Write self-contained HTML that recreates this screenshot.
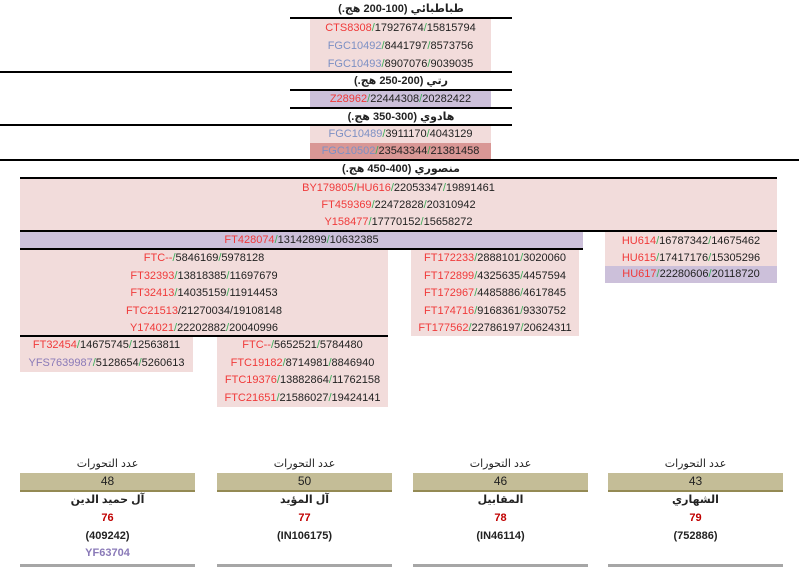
<!DOCTYPE html>
<html><head><meta charset="utf-8">
<style>
body{margin:0;width:799px;height:570px;background:#fff;position:relative;overflow:hidden;font-family:"Liberation Sans","DejaVu Sans",sans-serif;font-size:11px;color:#222}
.a{position:absolute}
.ln{position:absolute;height:2px;background:#000}
.blk{position:absolute}
.r{position:absolute;height:18px;line-height:18px;text-align:center;white-space:nowrap;left:0;right:0}
.h{position:absolute;text-align:center;font-weight:bold;font-size:11px;line-height:16px;white-space:nowrap}
.rd{color:#f03a3a}.bl{color:#7d90c4}.g{color:#3cae5a}.pu{color:#8a7ab8}
.pk{background:#f2dcdb}.pp{background:#ccc0da}.dk{background:#d99795}
.col{position:absolute;width:175px;text-align:center}
.col div{position:absolute;left:0;right:0;text-align:center;white-space:nowrap}
.tan{background:#c4bd97;border-bottom:2px solid #948a54;height:17px;line-height:17px;font-size:12px}
</style></head><body>
<div class="h" style="left:290px;width:222px;top:1px">طباطبائي (100-200 هج.)</div>
<div class="ln" style="left:290px;width:222px;top:17px"></div>
<div class="blk pk" style="left:310px;width:181px;top:19px;height:53px">
<div class="r" style="top:0"><span class="rd">CTS8308</span><span class="g">/</span>17927674<span class="g">/</span>15815794</div>
<div class="r" style="top:18px"><span class="bl">FGC10492</span><span class="g">/</span>8441797<span class="g">/</span>8573756</div>
<div class="r" style="top:36px"><span class="bl">FGC10493</span><span class="g">/</span>8907076<span class="g">/</span>9039035</div>
</div>
<div class="ln" style="left:0;width:512px;top:71px"></div>
<div class="h" style="left:290px;width:222px;top:73px">رتي (200-250 هج.)</div>
<div class="ln" style="left:290px;width:222px;top:89px"></div>
<div class="blk pp" style="left:310px;width:181px;top:91px;height:17px">
<div class="r" style="top:0;height:17px;line-height:17px"><span class="rd">Z28962</span><span class="g">/</span>22444308<span class="g">/</span>20282422</div>
</div>
<div class="ln" style="left:290px;width:222px;top:107px"></div>
<div class="h" style="left:290px;width:222px;top:109px">هادوي (300-350 هج.)</div>
<div class="ln" style="left:0;width:512px;top:124px"></div>
<div class="blk pk" style="left:310px;width:181px;top:126px;height:17px">
<div class="r" style="top:0;height:17px;line-height:17px"><span class="bl">FGC10489</span><span class="g">/</span>3911170<span class="g">/</span>4043129</div></div>
<div class="blk dk" style="left:310px;width:181px;top:143px;height:17px">
<div class="r" style="top:0;height:17px;line-height:17px"><span class="bl">FGC10502</span><span class="g">/</span>23543344<span class="g">/</span>21381458</div></div>
<div class="ln" style="left:0;width:799px;top:159px"></div>
<div class="h" style="left:290px;width:222px;top:161px">منصوري (400-450 هج.)</div>
<div class="ln" style="left:20px;width:757px;top:177px"></div>
<div class="blk pk" style="left:20px;width:757px;top:179px;height:52px">
<div class="r" style="top:0"><span class="rd">BY179805</span><span class="g">/</span><span class="rd">HU616</span><span class="g">/</span>22053347<span class="g">/</span>19891461</div>
<div class="r" style="top:17px"><span class="rd">FT459369</span><span class="g">/</span>22472828<span class="g">/</span>20310942</div>
<div class="r" style="top:34px"><span class="rd">Y158477</span><span class="g">/</span>17770152<span class="g">/</span>15658272</div>
</div>
<div class="ln" style="left:20px;width:757px;top:230px"></div>
<div class="blk pp" style="left:20px;width:563px;top:232px;height:17px">
<div class="r" style="top:0;height:17px;line-height:17px"><span class="rd">FT428074</span><span class="g">/</span>13142899<span class="g">/</span>10632385</div></div>
<div class="ln" style="left:20px;width:563px;top:248px"></div>
<div class="blk pk" style="left:20px;width:368px;top:250px;height:86px">
<div class="r" style="top:-1px"><span class="rd">FTC--</span><span class="g">/</span>5846169<span class="g">/</span>5978128</div>
<div class="r" style="top:17px"><span class="rd">FT32393</span><span class="g">/</span>13818385<span class="g">/</span>11697679</div>
<div class="r" style="top:34px"><span class="rd">FT32413</span><span class="g">/</span>14035159<span class="g">/</span>11914453</div>
<div class="r" style="top:52px"><span class="rd">FTC21513</span>/21270034/19108148</div>
<div class="r" style="top:69px"><span class="rd">Y174021</span><span class="g">/</span>22202882<span class="g">/</span>20040996</div>
</div>
<div class="ln" style="left:20px;width:368px;top:335px"></div>
<div class="blk pk" style="left:20px;width:173px;top:337px;height:35px">
<div class="r" style="top:-1px"><span class="rd">FT32454</span><span class="g">/</span>14675745<span class="g">/</span>12563811</div>
<div class="r" style="top:17px"><span class="pu">YFS7639987</span><span class="g">/</span>5128654<span class="g">/</span>5260613</div>
</div>
<div class="blk pk" style="left:217px;width:171px;top:337px;height:70px">
<div class="r" style="top:-1px"><span class="rd">FTC--</span><span class="g">/</span>5652521<span class="g">/</span>5784480</div>
<div class="r" style="top:17px"><span class="rd">FTC19182</span><span class="g">/</span>8714981<span class="g">/</span>8846940</div>
<div class="r" style="top:34px"><span class="rd">FTC19376</span><span class="g">/</span>13882864<span class="g">/</span>11762158</div>
<div class="r" style="top:52px"><span class="rd">FTC21651</span><span class="g">/</span>21586027<span class="g">/</span>19424141</div>
</div>
<div class="blk pk" style="left:411px;width:168px;top:250px;height:86px">
<div class="r" style="top:-1px"><span class="rd">FT172233</span><span class="g">/</span>2888101<span class="g">/</span>3020060</div>
<div class="r" style="top:17px"><span class="rd">FT172899</span><span class="g">/</span>4325635<span class="g">/</span>4457594</div>
<div class="r" style="top:34px"><span class="rd">FT172967</span><span class="g">/</span>4485886<span class="g">/</span>4617845</div>
<div class="r" style="top:52px"><span class="rd">FT174716</span><span class="g">/</span>9168361<span class="g">/</span>9330752</div>
<div class="r" style="top:69px"><span class="rd">FT177562</span><span class="g">/</span>22786197<span class="g">/</span>20624311</div>
</div>
<div class="blk pk" style="left:605px;width:172px;top:232px;height:34px">
<div class="r" style="top:0"><span class="rd">HU614</span><span class="g">/</span>16787342<span class="g">/</span>14675462</div>
<div class="r" style="top:17px"><span class="rd">HU615</span><span class="g">/</span>17417176<span class="g">/</span>15305296</div>
</div>
<div class="blk pp" style="left:605px;width:172px;top:266px;height:17px">
<div class="r" style="top:0;height:17px;line-height:17px"><span class="rd">HU617</span><span class="g">/</span>22280606<span class="g">/</span>20118720</div></div>

<div class="col" style="left:20px;top:457px">
<div style="top:0">عدد التحورات</div>
<div class="tan" style="top:16px">48</div>
<div style="top:36px;font-weight:bold">آل حميد الدين</div>
<div style="top:55px;font-weight:bold;color:#c00000">76</div>
<div style="top:73px;font-weight:bold">(409242)</div>
<div style="top:90px;font-weight:bold;color:#8a7ab8">YF63704</div>
<div style="top:107px;height:3px;background:#a6a6a6"></div>
</div>
<div class="col" style="left:217px;top:457px">
<div style="top:0">عدد التحورات</div>
<div class="tan" style="top:16px">50</div>
<div style="top:36px;font-weight:bold">آل المؤيد</div>
<div style="top:55px;font-weight:bold;color:#c00000">77</div>
<div style="top:73px;font-weight:bold">(IN106175)</div>
<div style="top:107px;height:3px;background:#a6a6a6"></div>
</div>
<div class="col" style="left:413px;top:457px">
<div style="top:0">عدد التحورات</div>
<div class="tan" style="top:16px">46</div>
<div style="top:36px;font-weight:bold">المقابيل</div>
<div style="top:55px;font-weight:bold;color:#c00000">78</div>
<div style="top:73px;font-weight:bold">(IN46114)</div>
<div style="top:107px;height:3px;background:#a6a6a6"></div>
</div>
<div class="col" style="left:608px;top:457px">
<div style="top:0">عدد التحورات</div>
<div class="tan" style="top:16px">43</div>
<div style="top:36px;font-weight:bold">الشهاري</div>
<div style="top:55px;font-weight:bold;color:#c00000">79</div>
<div style="top:73px;font-weight:bold">(752886)</div>
<div style="top:107px;height:3px;background:#a6a6a6"></div>
</div>
</body></html>
